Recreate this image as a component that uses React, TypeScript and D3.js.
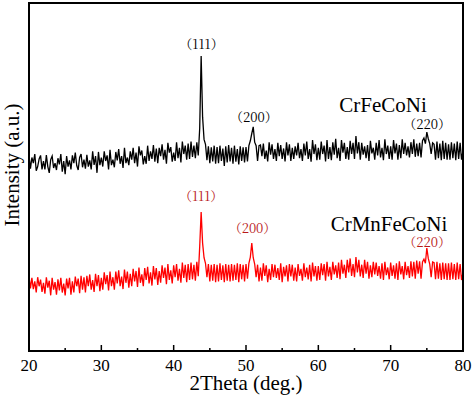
import React from "react";
import * as d3 from "d3";

const thetaStart = 20;
const thetaStep = 0.2;
const xTicks = [20, 30, 40, 50, 60, 70, 80];
const xMinorTicks = [25, 35, 45, 55, 65, 75];

const crFeCoNi = [
  562, 524, 556, 540, 566, 518, 530, 552, 562, 522,
  546, 522, 563, 530, 512, 550, 560, 526, 540, 520,
  554, 536, 566, 515, 546, 508, 560, 530, 548, 522,
  562, 540, 570, 533, 520, 556, 566, 528, 550, 524,
  564, 530, 548, 522, 574, 535, 560, 512, 572, 534,
  556, 530, 574, 546, 562, 522, 578, 534, 550, 528,
  572, 548, 580, 538, 560, 526, 584, 540, 556, 534,
  574, 550, 584, 540, 570, 530, 588, 562, 576, 536,
  560, 538, 590, 546, 574, 552, 592, 544, 582, 540,
  584, 560, 594, 550, 578, 538, 598, 570, 586, 544,
  570, 546, 600, 554, 584, 542, 602, 566, 590, 550,
  596, 552, 602, 558, 590, 554, 600, 562, 640, 848,
  672, 608, 594, 548, 588, 540, 585, 545, 590, 538,
  586, 540, 590, 546, 582, 532, 588, 542, 592, 545,
  584, 538, 590, 544, 580, 536, 588, 546, 585, 542,
  586, 545, 590, 604, 625, 644, 600, 590, 546, 590,
  592, 560, 596, 552, 576, 545, 600, 564, 594, 552,
  580, 546, 598, 560, 592, 552, 582, 545, 600, 562,
  594, 546, 584, 552, 588, 562, 598, 554, 580, 546,
  596, 562, 602, 552, 580, 544, 606, 566, 594, 548,
  584, 550, 602, 566, 590, 545, 606, 552, 586, 548,
  600, 564, 610, 554, 584, 546, 606, 570, 598, 552,
  586, 550, 604, 566, 598, 552, 618, 568, 600, 550,
  598, 564, 588, 554, 592, 546, 604, 568, 584, 550,
  598, 562, 606, 556, 584, 548, 608, 566, 590, 552,
  588, 550, 606, 568, 596, 550, 592, 554, 608, 566,
  598, 562, 588, 556, 600, 566, 608, 558, 596, 560,
  598, 556, 604, 612, 596, 629, 610, 596, 566, 598,
  594, 550, 602, 554, 596, 548, 604, 552, 598, 550,
  594, 550, 600, 554, 596, 548, 602, 552, 598, 550,
  575,
];

const crMnFeCoNi = [
  215, 180, 210, 178, 200, 168, 212, 186, 205, 170,
  196, 165, 212, 182, 202, 160, 210, 176, 198, 162,
  206, 174, 210, 168, 194, 160, 208, 180, 210, 162,
  200, 168, 214, 186, 208, 166, 216, 176, 212, 168,
  216, 186, 220, 176, 204, 170, 222, 186, 218, 172,
  210, 176, 226, 192, 218, 174, 228, 186, 212, 176,
  228, 194, 232, 186, 214, 178, 234, 196, 228, 182,
  222, 186, 236, 200, 230, 184, 240, 196, 220, 186,
  238, 204, 242, 194, 226, 188, 244, 206, 238, 190,
  230, 196, 246, 210, 240, 192, 250, 204, 232, 194,
  246, 212, 250, 202, 236, 196, 254, 210, 248, 198,
  250, 204, 254, 206, 248, 202, 256, 215, 300, 399,
  310, 268, 252, 212, 250, 200, 248, 202, 250, 198,
  248, 200, 252, 204, 246, 198, 250, 202, 248, 200,
  250, 202, 248, 204, 252, 198, 250, 206, 248, 200,
  250, 208, 252, 270, 310, 268, 250, 212, 248, 200,
  240, 202, 252, 216, 246, 198, 236, 204, 250, 212,
  248, 210, 238, 204, 252, 198, 242, 214, 246, 200,
  250, 214, 248, 202, 240, 200, 250, 216, 236, 202,
  252, 212, 240, 206, 248, 200, 254, 214, 244, 202,
  244, 204, 252, 218, 250, 202, 256, 214, 242, 204,
  256, 220, 246, 210, 254, 206, 262, 222, 248, 210,
  262, 226, 266, 216, 250, 212, 270, 226, 262, 214,
  248, 210, 262, 222, 256, 208, 246, 212, 256, 220,
  254, 216, 244, 208, 252, 204, 256, 218, 240, 206,
  254, 216, 246, 208, 252, 204, 258, 220, 244, 206,
  256, 218, 244, 210, 258, 214, 256, 208, 260, 222,
  258, 208, 256, 264, 252, 296, 266, 250, 212, 256,
  254, 206, 256, 208, 252, 204, 254, 206, 252, 204,
  252, 204, 254, 206, 250, 204, 254, 206, 250, 204,
  226,
];

const peakLabels = ["（111）", "（200）", "（220）"];
const blackPeakPos = [43.85, 51.1, 75.05];
const blackPeakLabelY = [868, 658, 638];
const redPeakPos = [43.8, 50.9, 75.05];
const redPeakLabelY = [431, 339, 299];

const W = 474;
const H = 399;
const left = 29;
const right = 463;
const top = 3;
const bottom = 351;

export default function App() {
  const x = d3.scaleLinear().domain([20, 80]).range([left, right]);
  const y = d3.scaleLinear().domain([0, 1000]).range([bottom, top]);
  const line = d3
    .line<number>()
    .x((_, i) => x(thetaStart + i * thetaStep))
    .y((d) => y(d));
  const serif = "'Liberation Serif', 'Times New Roman', serif";
  const cjk = "'Noto Serif CJK SC', 'Liberation Serif', 'Noto Sans CJK SC', serif";
  return (
    <svg
      width={W}
      height={H}
      style={{ position: "absolute", left: 0, top: 0, background: "#fff" }}
    >
      <rect x={0} y={0} width={W} height={H} fill="#fff" />
      <path d={line(crMnFeCoNi) || ""} fill="none" stroke="#ff0000" strokeWidth={1.3} />
      <path d={line(crFeCoNi) || ""} fill="none" stroke="#000" strokeWidth={1.3} />
      <rect
        x={left}
        y={top}
        width={right - left}
        height={bottom - top}
        fill="none"
        stroke="#000"
        strokeWidth={2}
      />
      {xTicks.map((t) => (
        <g key={"t" + t}>
          <line x1={x(t)} x2={x(t)} y1={bottom} y2={bottom - 6} stroke="#000" strokeWidth={1.5} />
          <text
            x={x(t)}
            y={371}
            textAnchor="middle"
            fontFamily={serif}
            fontSize={17}
            fill="#000"
          >
            {t}
          </text>
        </g>
      ))}
      {xMinorTicks.map((t) => (
        <line key={"m" + t} x1={x(t)} x2={x(t)} y1={bottom} y2={bottom - 3} stroke="#000" strokeWidth={1.5} />
      ))}
      <text x={246} y={390} textAnchor="middle" fontFamily={serif} fontSize={21} fill="#000">
        2Theta (deg.)
      </text>
      <text
        transform="translate(19,165) rotate(-90)"
        textAnchor="middle"
        fontFamily={serif}
        fontSize={21}
        fill="#000"
      >
        Intensity (a.u.)
      </text>
      {peakLabels.map((l, i) => (
        <text
          key={"b" + i}
          x={x(blackPeakPos[i])}
          y={y(blackPeakLabelY[i])}
          textAnchor="middle"
          fontFamily={cjk}
          fontSize={13}
          fill="#000"
        >
          {l}
        </text>
      ))}
      {peakLabels.map((l, i) => (
        <text
          key={"r" + i}
          x={x(redPeakPos[i])}
          y={y(redPeakLabelY[i])}
          textAnchor="middle"
          fontFamily={cjk}
          fontSize={13}
          fill="#b81818"
        >
          {l}
        </text>
      ))}
      <text x={383} y={112} textAnchor="middle" fontFamily={serif} fontSize={21} fill="#000">
        CrFeCoNi
      </text>
      <text x={389} y={231} textAnchor="middle" fontFamily={serif} fontSize={21} fill="#000">
        CrMnFeCoNi
      </text>
    </svg>
  );
}
